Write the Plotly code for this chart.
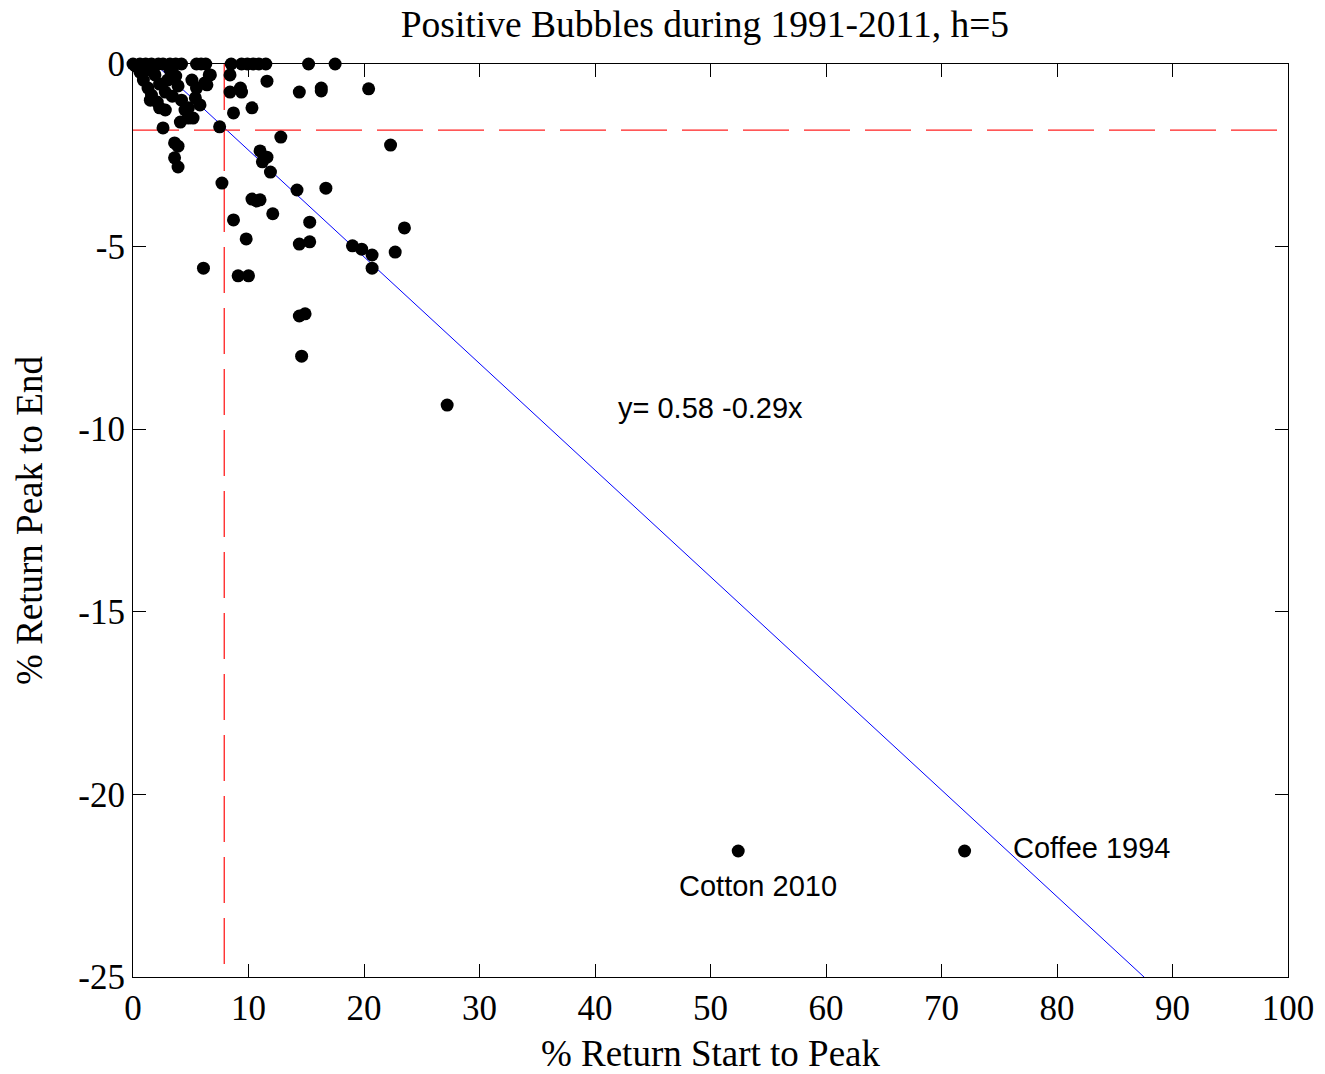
import plotly.graph_objects as go

# % return start to peak (x) and % return peak to end (y)
start_to_peak = [
    0.0, 0.6, 1.1, 1.6, 2.2, 2.6, 3.2, 3.7, 4.2, 5.5, 5.9, 6.3, 8.5, 9.4, 9.9, 10.4, 10.9, 11.5, 15.2, 17.5,
    0.2, 0.6, 0.9, 1.3, 1.6, 1.5, 2.1, 2.3, 2.8, 2.3, 2.8, 3.0, 3.4, 3.7, 3.9, 4.2, 4.5, 4.1, 4.8, 5.2,
    5.4, 5.1, 4.8, 5.5, 5.8, 2.6, 3.6, 3.9, 3.6, 3.9, 6.4, 6.7, 1.9, 1.2, 3.2,
    6.6, 6.2, 8.4, 8.4, 9.3, 9.4, 8.7, 10.3, 11.6, 14.4, 16.3, 16.3, 20.4, 7.5, 12.8, 22.3, 7.7,
    11.0, 11.6, 11.2, 11.9, 14.2, 16.7, 10.3, 11.0, 10.7, 8.7, 12.1, 15.3, 23.5, 9.8, 14.4, 15.3,
    19.0, 19.8, 20.7, 22.7, 20.7, 6.1, 9.1, 10.0, 14.4, 14.9, 14.6, 27.2, 52.4, 72.0,
]
peak_to_end = [
    0.0, 0.0, 0.0, 0.0, 0.0, 0.0, 0.0, 0.0, 0.0, 0.0, 0.0, 0.0, 0.0, 0.0, 0.0, 0.0, 0.0, 0.0, 0.0, 0.0,
    -0.05, -0.22, -0.44, -0.66, -0.85, -0.99, -1.04, -1.2, -1.26, -0.55, -0.77, -0.44, -0.88, -0.33, -0.6, -0.99, -1.26, -1.59, -1.48, -1.48,
    -0.93, -0.44, -1.2, -0.66, -1.12, -1.75, -2.16, -2.25, -2.57, -2.82, -0.57, -0.3, -0.3, -0.16, -0.16,
    -0.3, -0.52, -0.3, -0.77, -0.66, -0.77, -1.34, -1.2, -0.47, -0.77, -0.66, -0.74, -0.68, -1.72, -2.0, -2.22, -3.26,
    -2.38, -2.55, -2.68, -2.96, -3.45, -3.4, -3.7, -3.72, -3.75, -4.27, -4.1, -4.33, -4.49, -4.79, -4.93, -4.87,
    -4.98, -5.07, -5.23, -5.15, -5.59, -5.59, -5.8, -5.8, -6.9, -6.84, -8.0, -9.34, -21.55, -21.55,
]

# fitted line, as drawn
fit_intercept = 0.56
fit_slope = -0.292
fit_x = [0.0, 100.0]
fit_y = [fit_intercept + fit_slope * v for v in fit_x]

mean_start = 7.9
mean_end = -1.81

x_ticks = [0, 10, 20, 30, 40, 50, 60, 70, 80, 90, 100]
y_ticks = [0, -5, -10, -15, -20, -25]

labels = ["y= 0.58 -0.29x", "Cotton 2010", "Coffee 1994"]
label_x = [50.0, 54.1, 83.0]
label_y = [-9.42, -22.5, -21.47]

fig = go.Figure()

fig.add_trace(go.Scatter(
    x=fit_x, y=fit_y, mode="lines",
    line=dict(color="#0000ff", width=1), showlegend=False, hoverinfo="skip",
))
fig.add_trace(go.Scatter(
    x=[mean_start, mean_start], y=[0, -25], mode="lines",
    line=dict(color="#ff2020", width=1.3, dash="46px,15px"), showlegend=False,
))
fig.add_trace(go.Scatter(
    x=[0, 100], y=[mean_end, mean_end], mode="lines",
    line=dict(color="#ff2020", width=1.3, dash="46px,15px"), showlegend=False,
))
fig.add_trace(go.Scatter(
    x=start_to_peak, y=peak_to_end, mode="markers",
    marker=dict(color="black", size=13, line=dict(width=0)),
    cliponaxis=False, showlegend=False,
))

for t, xx, yy in zip(labels, label_x, label_y):
    fig.add_annotation(x=xx, y=yy, text=t, showarrow=False,
                       font=dict(family="Liberation Sans, Arial", size=29, color="black"))

serif = "Liberation Serif, Times New Roman, serif"
fig.update_layout(
    width=1325, height=1074,
    paper_bgcolor="white", plot_bgcolor="white",
    margin=dict(l=133, r=37, t=64, b=97),
    title=dict(text="Positive Bubbles during 1991-2011, h=5", x=0.532, xanchor="center",
               y=0.9777, yanchor="middle", font=dict(family=serif, size=37.5, color="black")),
    font=dict(family=serif, color="black"),
)
fig.update_xaxes(
    range=[0, 100], tickvals=x_ticks, ticktext=[str(v) for v in x_ticks],
    showgrid=False, zeroline=False, showline=True, linecolor="black", linewidth=1,
    mirror="allticks", ticks="inside", ticklen=13, tickcolor="black", automargin=False,
    tickfont=dict(family=serif, size=35, color="black"),
    title=dict(text="% Return Start to Peak", font=dict(family=serif, size=37, color="black"), standoff=14),
)
fig.update_yaxes(
    range=[-25, 0], tickvals=y_ticks, ticktext=[str(v) for v in y_ticks],
    showgrid=False, zeroline=False, showline=True, linecolor="black", linewidth=1,
    mirror="allticks", ticks="inside", ticklen=13, tickcolor="black", automargin=False,
    tickfont=dict(family=serif, size=35, color="black"),
    title=dict(text="% Return Peak to End", font=dict(family=serif, size=37, color="black"), standoff=24),
)

fig.write_html("out.html", config={"displayModeBar": False},
               post_script="document.body.style.margin='0';")
